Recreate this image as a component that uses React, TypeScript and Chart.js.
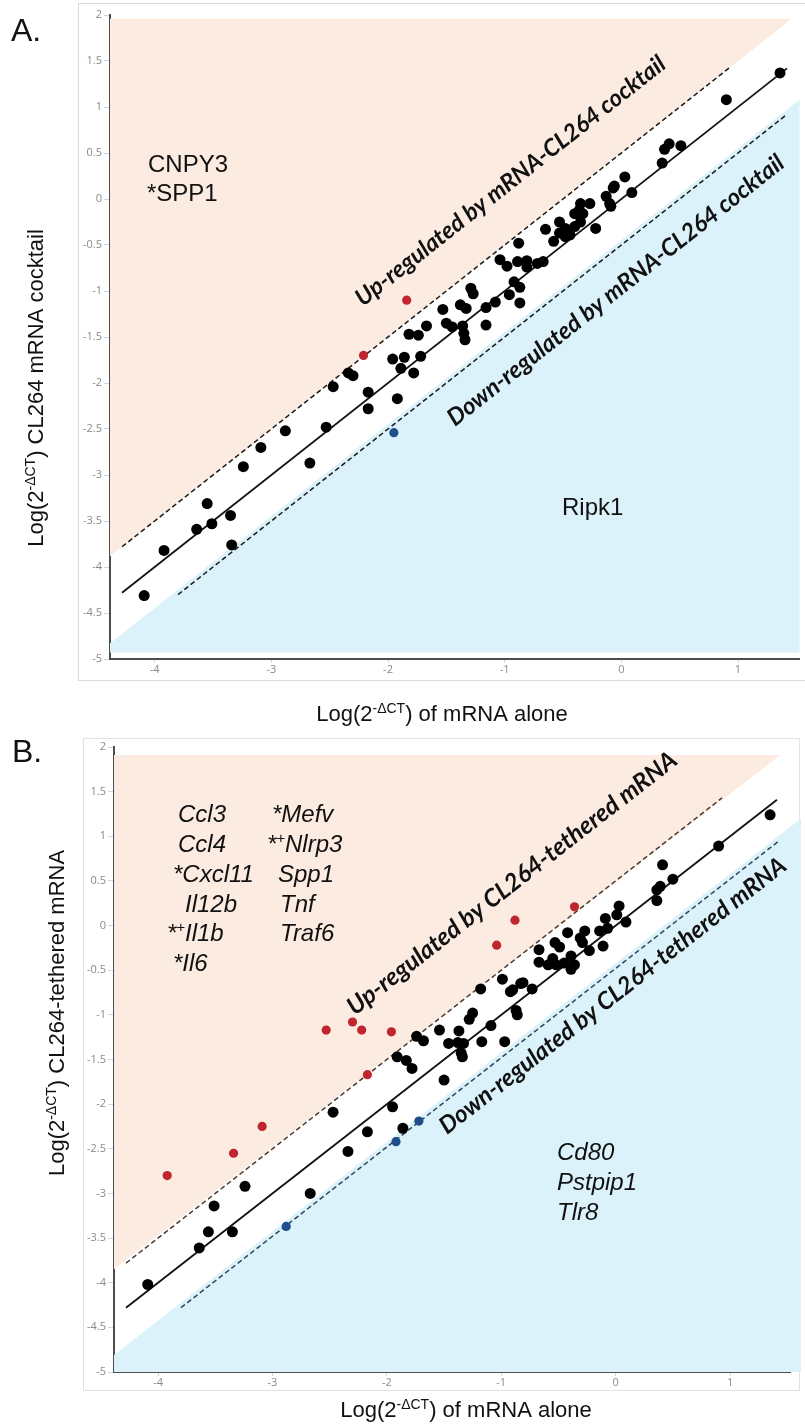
import React, { useEffect, useRef } from "react";
import { Chart, registerables } from "chart.js";
Chart.register(...registerables);

// ---------- tick values ----------
const X_TICKS = [-4, -3, -2, -1, 0, 1];
const Y_TICKS = [2, 1.5, 1, 0.5, 0, -0.5, -1, -1.5, -2, -2.5, -3, -3.5, -4, -4.5, -5];

// ---------- panel A data (x = mRNA alone, y = mRNA-CL264 cocktail) ----------
const A_BLACK: [number, number][] = [
  [-4.09, -4.31], [-3.92, -3.82], [-3.64, -3.59], [-3.55, -3.31], [-3.51, -3.53], [-3.35, -3.44],
  [-3.34, -3.76], [-3.24, -2.91], [-3.09, -2.70], [-2.88, -2.52], [-2.67, -2.87], [-2.53, -2.48],
  [-2.47, -2.04], [-2.34, -1.89], [-2.30, -1.92], [-2.17, -2.10], [-2.17, -2.28], [-1.96, -1.74],
  [-1.89, -1.84], [-1.92, -2.17], [-1.86, -1.72], [-1.78, -1.89], [-1.72, -1.71], [-1.82, -1.47],
  [-1.74, -1.48], [-1.67, -1.38], [-1.53, -1.20], [-1.50, -1.35], [-1.45, -1.39], [-1.36, -1.38],
  [-1.35, -1.46], [-1.34, -1.53], [-1.38, -1.15], [-1.33, -1.19], [-1.29, -0.97], [-1.27, -1.03],
  [-1.16, -1.18], [-1.16, -1.37], [-1.08, -1.12], [-0.96, -1.04], [-0.92, -0.90], [-0.87, -0.96],
  [-0.87, -1.13], [-1.04, -0.66], [-0.98, -0.73], [-0.89, -0.68], [-0.81, -0.67], [-0.81, -0.74],
  [-0.72, -0.70], [-0.67, -0.68], [-0.88, -0.48], [-0.65, -0.33], [-0.58, -0.46], [-0.53, -0.25],
  [-0.48, -0.32], [-0.53, -0.37], [-0.48, -0.41], [-0.44, -0.39], [-0.40, -0.30], [-0.35, -0.25],
  [-0.33, -0.16], [-0.35, -0.05], [-0.27, -0.05], [-0.40, -0.16], [-0.36, -0.12], [-0.22, -0.32],
  [-0.13, 0.03], [-0.10, -0.05], [-0.07, 0.12], [-0.06, 0.14], [-0.09, -0.08], [0.03, 0.24],
  [0.09, 0.07], [0.35, 0.39], [0.37, 0.54], [0.41, 0.60], [0.51, 0.58], [0.90, 1.08], [1.36, 1.37],
];
const A_RED: [number, number][] = [[-2.21, -1.70], [-1.84, -1.10]];
const A_BLUE: [number, number][] = [[-1.95, -2.54]];
const A_SOLID: [number, number][] = [[-4.28, -4.28], [1.42, 1.42]];
const A_UP: [number, number][] = [[-4.28, -3.78], [0.93, 1.43]];
const A_DOWN: [number, number][] = [[-3.80, -4.30], [1.42, 0.92]];
const A_UP_REGION: [number, number][] = [[-4.383, -3.883], [-4.383, 1.96], [1.46, 1.96]];
const A_DOWN_REGION: [number, number][] = [[-4.383, -4.83], [1.527, 1.08], [1.527, -4.93], [-4.383, -4.93]];

// ---------- panel B data (x = mRNA alone, y = CL264-tethered mRNA) ----------
const B_BLACK: [number, number][] = [
  [-4.09, -4.02], [-3.64, -3.61], [-3.56, -3.43], [-3.51, -3.14], [-3.35, -3.43], [-3.24, -2.92],
  [-2.67, -3.00], [-2.47, -2.09], [-2.34, -2.53], [-2.17, -2.31], [-1.95, -2.03], [-1.86, -2.27],
  [-1.91, -1.47], [-1.83, -1.51], [-1.78, -1.60], [-1.74, -1.24], [-1.68, -1.29], [-1.50, -1.73],
  [-1.54, -1.17], [-1.46, -1.32], [-1.37, -1.18], [-1.38, -1.31], [-1.33, -1.32], [-1.35, -1.43],
  [-1.34, -1.47], [-1.28, -1.05], [-1.25, -0.98], [-1.17, -1.30], [-1.09, -1.12], [-1.18, -0.71],
  [-0.97, -1.30], [-0.99, -0.60], [-0.92, -0.74], [-0.90, -0.72], [-0.83, -0.65], [-0.81, -0.64],
  [-0.87, -0.95], [-0.86, -1.00], [-0.73, -0.71], [-0.67, -0.27], [-0.67, -0.41], [-0.59, -0.44],
  [-0.55, -0.37], [-0.52, -0.44], [-0.45, -0.42], [-0.53, -0.19], [-0.49, -0.24], [-0.42, -0.08],
  [-0.39, -0.34], [-0.36, -0.44], [-0.39, -0.49], [-0.31, -0.14], [-0.27, -0.06], [-0.29, -0.19],
  [-0.23, -0.28], [-0.14, -0.06], [-0.11, -0.23], [-0.09, 0.08], [-0.07, -0.03], [0.01, 0.12],
  [0.03, 0.22], [0.09, 0.04], [0.36, 0.40], [0.39, 0.44], [0.36, 0.28], [0.41, 0.68], [0.50, 0.52],
  [0.90, 0.89], [1.35, 1.24],
];
const B_RED: [number, number][] = [
  [-3.92, -2.80], [-3.34, -2.55], [-3.09, -2.25], [-2.17, -1.67], [-2.53, -1.17], [-2.30, -1.08],
  [-2.22, -1.17], [-1.96, -1.19], [-1.04, -0.22], [-0.88, 0.06], [-0.36, 0.21],
];
const B_BLUE: [number, number][] = [[-2.88, -3.37], [-1.92, -2.42], [-1.72, -2.19]];
const B_SOLID: [number, number][] = [[-4.28, -4.28], [1.41, 1.41]];
const B_UP: [number, number][] = [[-4.28, -3.78], [0.93, 1.43]];
const B_DOWN: [number, number][] = [[-3.80, -4.28], [1.42, 0.94]];
const B_UP_REGION: [number, number][] = [[-4.385, -3.85], [-4.385, 1.91], [1.44, 1.91]];
const B_DOWN_REGION: [number, number][] = [[-4.385, -4.81], [1.62, 1.2], [1.62, -5], [-4.385, -5]];

// ---------- annotation text ----------
const A_UP_GENES = ["CNPY3", "*SPP1"];
const A_DOWN_GENES = ["Ripk1"];
const B_UP_GENES_LEFT = ["Ccl3", "Ccl4", "*Cxcl11", "Il12b", "*+Il1b", "*Il6"];
const B_UP_GENES_RIGHT = ["*Mefv", "*+Nlrp3", "Spp1", "Tnf", "Traf6"];
const B_DOWN_GENES = ["Cd80", "Pstpip1", "Tlr8"];

const PEACH = "rgb(252,235,224)";
const SKY = "rgb(220,242,251)";
const RED = "#c0262d";
const BLUE = "#1f4e8c";
const SANS = "'Liberation Sans', Arial, sans-serif";

type Part = { t: string; size: number; dy?: number };
type TextItem = {
  parts: Part[];
  x: number;
  y: number;
  align?: "left" | "center";
  rot?: number | "line";
  italic?: boolean;
  bold?: boolean;
  family?: string;
  fit?: number;
};

function drawRich(ctx: CanvasRenderingContext2D, item: TextItem, lineAngle: number) {
  const fam = item.family || SANS;
  const style = (item.italic ? "italic " : "") + (item.bold ? "bold " : "");
  let scale = 1;
  const widthAt = (k: number) =>
    item.parts.reduce((w, p) => {
      ctx.font = `${style}${p.size * k}px ${fam}`;
      return w + ctx.measureText(p.t).width;
    }, 0);
  if (item.fit) scale = item.fit / widthAt(1);
  const total = widthAt(scale);
  ctx.save();
  ctx.translate(item.x, item.y);
  const r = item.rot === "line" ? lineAngle : item.rot || 0;
  ctx.rotate(r);
  ctx.fillStyle = "#111";
  ctx.textBaseline = "alphabetic";
  ctx.textAlign = "left";
  let cx = item.align === "center" ? -total / 2 : 0;
  for (const p of item.parts) {
    ctx.font = `${style}${p.size * scale}px ${fam}`;
    ctx.fillText(p.t, cx, (p.dy || 0) * scale);
    cx += ctx.measureText(p.t).width;
  }
  ctx.restore();
}

function geneParts(g: string, size: number): Part[] {
  if (g.startsWith("*+")) return [{ t: "*", size }, { t: "+", size: size * 0.62, dy: -size * 0.38 }, { t: g.slice(2), size }];
  return [{ t: g, size }];
}

type PanelDef = {
  top: number;
  h: number;
  xMin: number;
  xMax: number;
  padTop: number;
  padRight: number;
  yAxisW: number;
  xAxisH: number;
  black: [number, number][];
  red: [number, number][];
  blue: [number, number][];
  solid: [number, number][];
  up: [number, number][];
  down: [number, number][];
  upRegion: [number, number][];
  downRegion: [number, number][];
  upDashColor: string;
  downDashColor: string;
  texts: TextItem[];
};

const titleParts = (a: string, b: string): Part[] => [
  { t: a, size: 22 },
  { t: "-ΔCT", size: 14, dy: -8 },
  { t: b, size: 22 },
];

const PANEL_A: PanelDef = {
  top: 0, h: 730, xMin: -4.383, xMax: 1.527, padTop: 15, padRight: 0, yAxisW: 110, xAxisH: 71,
  black: A_BLACK, red: A_RED, blue: A_BLUE, solid: A_SOLID, up: A_UP, down: A_DOWN,
  upRegion: A_UP_REGION, downRegion: A_DOWN_REGION,
  upDashColor: "#1a1a1a", downDashColor: "#1a1a1a",
  texts: [
    { parts: [{ t: "A.", size: 32 }], x: 11, y: 41 },
    ...A_UP_GENES.map((g, i) => ({ parts: [{ t: g, size: 24 }], x: i === 0 ? 148 : 147, y: 172 + i * 28.5 })),
    ...A_DOWN_GENES.map((g) => ({ parts: [{ t: g, size: 24 }], x: 562, y: 515 })),
    { parts: titleParts("Log(2", ") CL264 mRNA cocktail"), x: 43, y: 388, align: "center", rot: -Math.PI / 2 },
    { parts: titleParts("Log(2", ") of mRNA alone"), x: 442, y: 721, align: "center" },
    { parts: [{ t: "Up-regulated by mRNA-CL264 cocktail", size: 20 }], x: 363, y: 307, rot: "line", bold: true, italic: true, family: "Lato, 'Open Sans', sans-serif", fit: 388 },
    { parts: [{ t: "Down-regulated by mRNA-CL264 cocktail", size: 20 }], x: 455, y: 427, rot: "line", bold: true, italic: true, family: "Lato, 'Open Sans', sans-serif", fit: 422 },
  ],
};

const PANEL_B: PanelDef = {
  top: 730, h: 696, xMin: -4.385, xMax: 1.524, padTop: 17, padRight: 15, yAxisW: 114, xAxisH: 54,
  black: B_BLACK, red: B_RED, blue: B_BLUE, solid: B_SOLID, up: B_UP, down: B_DOWN,
  upRegion: B_UP_REGION, downRegion: B_DOWN_REGION,
  upDashColor: "#4a3a30", downDashColor: "#2e4656",
  texts: [
    { parts: [{ t: "B.", size: 32 }], x: 12, y: 32 },
    ...B_UP_GENES_LEFT.map((g, i) => ({
      parts: geneParts(g, 24), italic: true,
      x: [178, 178, 173, 185, 167, 173][i], y: [91.7, 121.7, 151.7, 181.7, 210.7, 240.7][i],
    })),
    ...B_UP_GENES_RIGHT.map((g, i) => ({
      parts: geneParts(g, 24), italic: true,
      x: [272, 267, 278, 280, 280][i], y: [91.7, 121.7, 151.7, 181.7, 210.7][i],
    })),
    ...B_DOWN_GENES.map((g, i) => ({ parts: [{ t: g, size: 24 }], italic: true, x: 557, y: 430 + i * 30 })),
    { parts: titleParts("Log(2", ") CL264-tethered mRNA"), x: 64, y: 283, align: "center", rot: -Math.PI / 2 },
    { parts: titleParts("Log(2", ") of mRNA alone"), x: 466, y: 687, align: "center" },
    { parts: [{ t: "Up-regulated by CL264-tethered mRNA", size: 20 }], x: 355, y: 286, rot: "line", bold: true, italic: true, family: "Lato, 'Open Sans', sans-serif", fit: 411 },
    { parts: [{ t: "Down-regulated by CL264-tethered mRNA", size: 20 }], x: 447, y: 405, rot: "line", bold: true, italic: true, family: "Lato, 'Open Sans', sans-serif", fit: 433 },
  ],
};

const toXY = (arr: [number, number][]) => arr.map(([x, y]) => ({ x, y }));

function PanelChart({ p }: { p: PanelDef }) {
  const ref = useRef<HTMLCanvasElement | null>(null);
  useEffect(() => {
    if (!ref.current) return;
    const regions = {
      id: "regions",
      beforeDatasetsDraw(chart: any) {
        const { ctx, scales } = chart;
        const poly = (pts: [number, number][], color: string) => {
          ctx.save();
          ctx.beginPath();
          pts.forEach(([x, y], i) => {
            const px = scales.x.getPixelForValue(x);
            const py = scales.y.getPixelForValue(y);
            if (i === 0) ctx.moveTo(px, py);
            else ctx.lineTo(px, py);
          });
          ctx.closePath();
          ctx.fillStyle = color;
          ctx.fill();
          ctx.restore();
        };
        poly(p.upRegion, PEACH);
        poly(p.downRegion, SKY);
      },
    };
    const texts = {
      id: "texts",
      afterDraw(chart: any) {
        const { ctx, scales } = chart;
        const dx = scales.x.getPixelForValue(1) - scales.x.getPixelForValue(0);
        const dy = scales.y.getPixelForValue(0) - scales.y.getPixelForValue(1);
        const ang = -Math.atan2(dy, dx);
        p.texts.forEach((t) => drawRich(ctx, t, ang));
      },
    };
    const lineDs = (pts: [number, number][], color: string, dash: number[], w: number) => ({
      data: toXY(pts),
      showLine: true,
      borderColor: color,
      borderWidth: w,
      borderDash: dash,
      pointRadius: 0,
      fill: false,
    });
    const chart = new Chart(ref.current, {
      type: "scatter",
      data: {
        datasets: [
          { data: toXY(p.black), pointRadius: 5.5, pointBackgroundColor: "#000", pointBorderWidth: 0, backgroundColor: "#000" },
          { data: toXY(p.red), pointRadius: 4.6, pointBackgroundColor: RED, pointBorderWidth: 0, backgroundColor: RED },
          { data: toXY(p.blue), pointRadius: 4.6, pointBackgroundColor: BLUE, pointBorderWidth: 0, backgroundColor: BLUE },
          lineDs(p.solid, "#111", [], 1.8),
          lineDs(p.up, p.upDashColor, [5, 3], 1.5),
          lineDs(p.down, p.downDashColor, [5, 3], 1.5),
        ] as any,
      },
      options: {
        animation: false,
        responsive: false,
        devicePixelRatio: 1,
        events: [],
        layout: { padding: { left: 0, right: p.padRight, top: p.padTop, bottom: 0 } },
        plugins: { legend: { display: false }, tooltip: { enabled: false }, title: { display: false } },
        scales: {
          x: {
            type: "linear",
            position: "bottom",
            min: p.xMin,
            max: p.xMax,
            afterBuildTicks: (s: any) => {
              s.ticks = X_TICKS.map((v) => ({ value: v }));
            },
            afterFit: (s: any) => {
              s.height = p.xAxisH;
            },
            grid: { display: true, drawOnChartArea: false, drawTicks: true, tickLength: 4, color: "#c6daee", lineWidth: 1 },
            border: { display: true, color: "#4d4d4d", width: 2 },
            ticks: {
              font: { family: "'Open Sans', sans-serif", size: 11 },
              color: "#8a8a8a",
              padding: 0,
              maxRotation: 0,
              autoSkip: false,
              callback: (v: any) => String(v),
            },
          },
          y: {
            type: "linear",
            position: "left",
            min: -5,
            max: 2,
            afterBuildTicks: (s: any) => {
              s.ticks = Y_TICKS.map((v) => ({ value: v }));
            },
            afterFit: (s: any) => {
              s.width = p.yAxisW;
            },
            grid: { display: true, drawOnChartArea: false, drawTicks: true, tickLength: 6, color: "#c6daee", lineWidth: 1 },
            border: { display: true, color: "#4d4d4d", width: 2 },
            ticks: {
              font: { family: "'Open Sans', sans-serif", size: 11 },
              color: "#8a8a8a",
              padding: 2,
              autoSkip: false,
              callback: (v: any) => String(v),
            },
          },
        },
      } as any,
      plugins: [regions, texts],
    });
    return () => chart.destroy();
  }, [p]);
  return (
    <canvas
      ref={ref}
      width={805}
      height={p.h}
      style={{ position: "absolute", left: 0, top: p.top, width: 805, height: p.h }}
    />
  );
}

export default function App() {
  return (
    <div style={{ position: "absolute", left: 0, top: 0, width: 805, height: 1426, overflow: "hidden", background: "#fff" }}>
      <div style={{ position: "absolute", left: 78, top: 3, width: 740, height: 676, border: "1px solid #dadada" }} />
      <div style={{ position: "absolute", left: 83, top: 738, width: 715, height: 651, border: "1px solid #e2e2e2" }} />
      <PanelChart p={PANEL_A} />
      <PanelChart p={PANEL_B} />
    </div>
  );
}
